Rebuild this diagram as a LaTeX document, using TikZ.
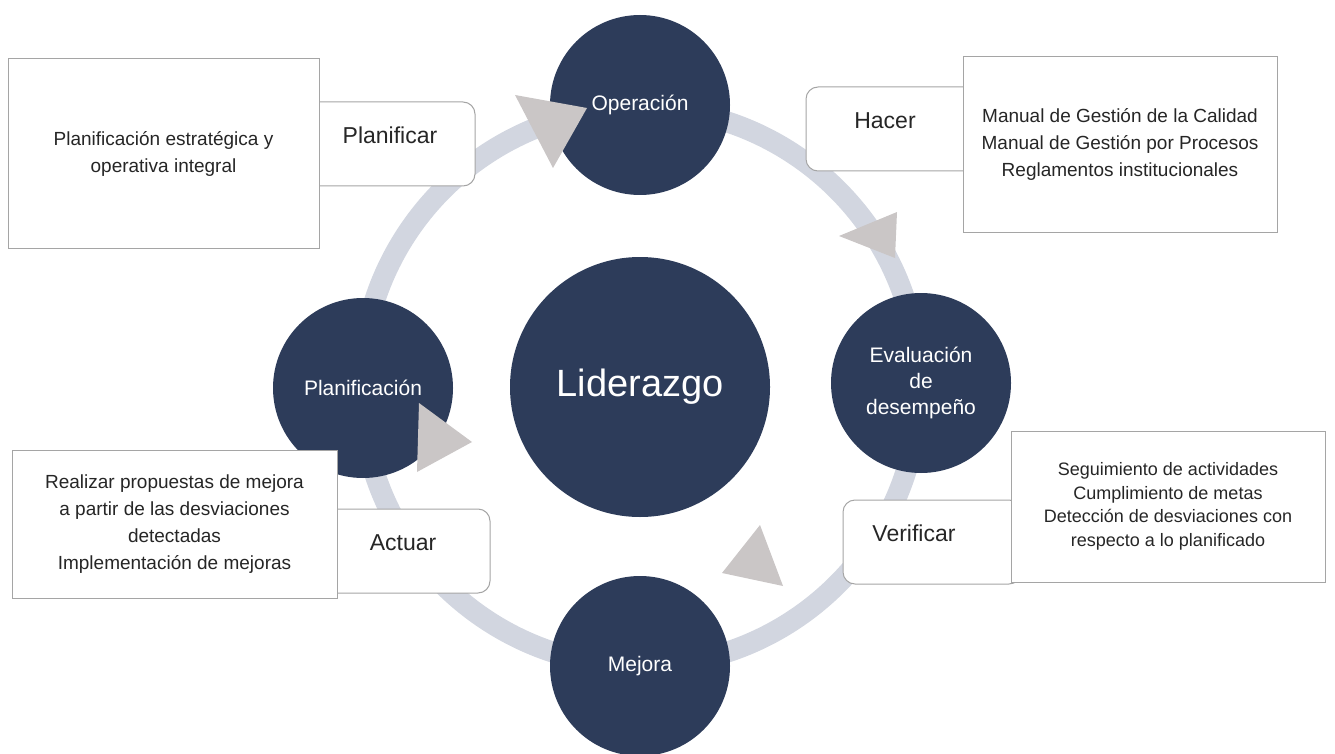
\documentclass[tikz,border=0pt]{standalone}
\usepackage{fontspec}
\setmainfont{Liberation Sans}
\definecolor{navy}{RGB}{45,60,90}
\definecolor{band}{RGB}{210,214,224}
\definecolor{headgrey}{RGB}{202,198,198}
\definecolor{edge}{RGB}{165,165,165}
\definecolor{ink}{RGB}{38,38,38}
\begin{document}
\begin{tikzpicture}[
  x=1pt, y=-1pt,
  hub/.style={
    circle,
    fill=navy,
    text=white,
    minimum size=260pt,
    inner sep=0pt,
    font=\fontsize{38}{44}\selectfont
  },
  stage/.style={
    circle,
    fill=navy,
    text=white,
    minimum size=180pt,
    inner sep=0pt,
    align=center,
    font=\fontsize{21}{26}\selectfont
  },
  note/.style={
    draw=edge,
    fill=white,
    text=ink,
    line width=1pt,
    align=center,
    inner sep=0pt,
    font=\fontsize{19}{27}\selectfont
  },
  tag/.style={
    draw=edge,
    fill=white,
    text=ink,
    line width=1pt,
    rounded corners=12pt,
    inner xsep=0pt,
    inner ysep=24.5pt,
    text height=17pt,
    text depth=18pt,
    font=\fontsize{23}{27}\selectfont
  },
  cycleband/.style={draw=band, line width=21pt},
  cyclehead/.style={fill=headgrey}
]
\useasboundingbox (0,0) rectangle (1335,754);

\node[hub] (lid) at (640,387) {Liderazgo};
\draw[cycleband] (lid.center) circle (279pt);

\node[stage] (ope) at (640,105) {Operación};
\node[stage] (eva) at (921,383) {Evaluación\\de\\desempeño};
\node[stage] (mej) at (640,666) {Mejora};
\node[stage] (pla) at (363,388) {Planificación};

\fill[cyclehead] (515,95) -- (587,108) -- (553,168) -- cycle;
\fill[cyclehead] (897,212) -- (895,258) -- (839,236) -- cycle;
\fill[cyclehead] (760,525) -- (783,586) -- (722,573) -- cycle;
\fill[cyclehead] (419,403) -- (472,442) -- (417,472) -- cycle;

\node[tag, minimum width=170pt] (plan) at (390,144) {Planificar};
\node[tag, minimum width=170pt] (hac) at (891,129) {\hspace*{-12pt}Hacer};
\node[tag, minimum width=178pt] (ver) at (932,542) {\hspace*{-36pt}Verificar};
\node[tag, minimum width=174pt] (act) at (403,551) {Actuar};

\node[note, minimum width=311pt, minimum height=189pt] (plannote) at (163.5,153.5)
  {Planificación estratégica y\\operativa integral};
\node[note, minimum width=314pt, minimum height=175pt] (hacnote) at (1120,144.5)
  {Manual de Gestión de la Calidad\\Manual de Gestión por Procesos\\Reglamentos institucionales};
\node[note, minimum width=314pt, minimum height=151pt, font=\fontsize{18}{23.5}\selectfont] (vernote) at (1168,506.5)
  {Seguimiento de actividades\\Cumplimiento de metas\\Detección de desviaciones con\\respecto a lo planificado};
\node[note, minimum width=325pt, minimum height=148pt] (actnote) at (174.5,524)
  {Realizar propuestas de mejora\\a partir de las desviaciones\\detectadas\\Implementación de mejoras};
\end{tikzpicture}
\end{document}
